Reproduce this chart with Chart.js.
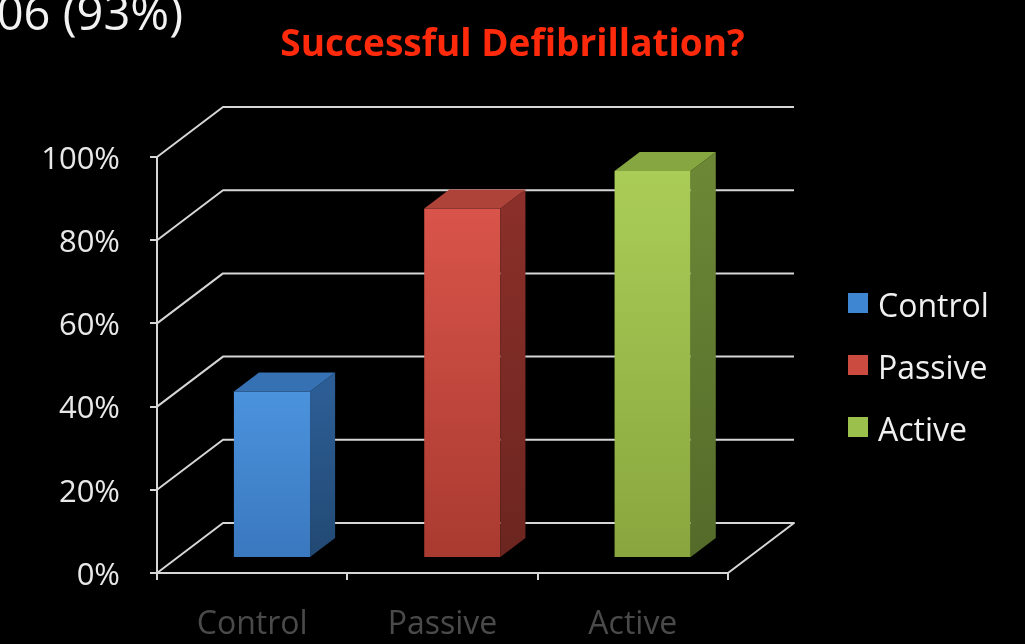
<!DOCTYPE html>
<html>
<head>
<meta charset="utf-8">
<script src="https://cdn.jsdelivr.net/npm/chart.js@4/dist/chart.umd.min.js"></script>
<style>
  html, body { margin: 0; padding: 0; background: #000; }
  #wrap { position: relative; width: 1025px; height: 644px; }
</style>
</head>
<body>
<div id="wrap"><canvas id="c" width="1025" height="644"></canvas></div>
<script>
// ---- data ----
const categories = ['Control', 'Passive', 'Active'];
const successRate = [40, 84, 93];          // percent
const yTickValues = [0, 20, 40, 60, 80, 100];
const titleText = 'Successful Defibrillation?';
const strayText = '06 (93%)';

// ---- styles ----
const frontTop = ['#4b93dd', '#d9544a', '#aacd57'];
const frontBottom = ['#3a78bf', '#a93a30', '#89a63e'];
const sideCol = ['#2c5d94', '#8a2f29', '#6c8836'];
const topCol = ['#3671b3', '#ad4339', '#86a642'];
const legendCol = ['#3f86d2', '#cc4b40', '#9bc04c'];
const DX = 66, DY = -50;          // full floor depth offset
const F0 = 0.3, F1 = 0.68;        // bar depth range (fraction of floor depth)
const LINE = '#d6d6d6';

const threeD = {
  id: 'threeD',
  beforeDatasetsDraw(chart) {
    const { ctx, chartArea: a, scales: { y } } = chart;
    ctx.save();
    ctx.strokeStyle = LINE;
    ctx.lineWidth = 2;
    ctx.lineJoin = 'round';
    yTickValues.forEach(v => {
      const py = y.getPixelForValue(v);
      ctx.beginPath();
      ctx.moveTo(a.left, py);
      ctx.lineTo(a.left + DX, py + DY);
      ctx.lineTo(a.right + DX, py + DY);
      if (v === 0) ctx.lineTo(a.right, py);
      ctx.stroke();
    });
    ctx.restore();
    ctx.save();
    ctx.translate(F0 * DX, F0 * DY);
  },
  afterDatasetsDraw(chart) {
    const { ctx } = chart;
    const meta = chart.getDatasetMeta(0);
    const ddx = (F1 - F0) * DX, ddy = (F1 - F0) * DY;
    meta.data.forEach((bar, i) => {
      const p = bar.getProps(['x', 'y', 'base', 'width'], true);
      const l = p.x - p.width / 2, r = p.x + p.width / 2, t = p.y, b = p.base;
      // side face
      const g = ctx.createLinearGradient(0, t, 0, b);
      g.addColorStop(0, sideCol[i]);
      g.addColorStop(1, shade(sideCol[i], -0.22));
      ctx.fillStyle = g;
      ctx.beginPath();
      ctx.moveTo(r, t); ctx.lineTo(r + ddx, t + ddy); ctx.lineTo(r + ddx, b + ddy); ctx.lineTo(r, b);
      ctx.closePath(); ctx.fill();
      // top face
      ctx.fillStyle = topCol[i];
      ctx.beginPath();
      ctx.moveTo(l, t); ctx.lineTo(l + ddx, t + ddy); ctx.lineTo(r + ddx, t + ddy); ctx.lineTo(r, t);
      ctx.closePath(); ctx.fill();
    });
    ctx.restore();
  },
  afterDraw(chart) {
    const { ctx } = chart;
    ctx.save();
    // legend
    ctx.font = '32px "Open Sans"';
    ctx.textAlign = 'left';
    ctx.textBaseline = 'alphabetic';
    const tops = [293, 355, 417];
    categories.forEach((c, i) => {
      ctx.fillStyle = legendCol[i];
      ctx.fillRect(848, tops[i], 20, 20);
      ctx.fillStyle = '#f0f0f0';
      ctx.fillText(c, 878, tops[i] + 24);
    });
    // stray slide text at top-left
    ctx.font = '47px "Open Sans"';
    ctx.textAlign = 'right';
    ctx.fillStyle = '#f2f2f2';
    ctx.fillText(strayText, 183, 30);
    ctx.restore();
  }
};

function shade(hex, k) {
  const n = parseInt(hex.slice(1), 16);
  let r = n >> 16, g = (n >> 8) & 255, b = n & 255;
  r = Math.round(r * (1 + k)); g = Math.round(g * (1 + k)); b = Math.round(b * (1 + k));
  return 'rgb(' + r + ',' + g + ',' + b + ')';
}

new Chart(document.getElementById('c'), {
  type: 'bar',
  data: {
    labels: categories,
    datasets: [{
      label: 'Successful Defibrillation',
      data: successRate,
      clip: false,
      barPercentage: 0.4,
      categoryPercentage: 1.0,
      borderWidth: 0,
      backgroundColor(ctx) {
        const chart = ctx.chart, y = chart.scales.y;
        const i = ctx.dataIndex;
        if (!y || !chart.chartArea || ctx.type !== 'data') return frontTop[i % 3];
        const t = y.getPixelForValue(successRate[i]), b = y.getPixelForValue(0);
        const g = chart.ctx.createLinearGradient(0, t, 0, b);
        g.addColorStop(0, frontTop[i]);
        g.addColorStop(1, frontBottom[i]);
        return g;
      }
    }]
  },
  options: {
    responsive: false,
    animation: false,
    events: [],
    layout: { padding: 0 },
    plugins: {
      legend: { display: false },
      tooltip: { enabled: false },
      title: {
        display: true,
        text: titleText,
        color: '#ff2a0c',
        font: { family: 'Open Sans', size: 37, weight: 'bold', lineHeight: 1.2 },
        padding: { top: 23, bottom: 89.6 }
      }
    },
    scales: {
      x: {
        grid: { display: true, drawOnChartArea: false, drawTicks: true, tickLength: 7, offset: true, color: LINE, lineWidth: 2 },
        border: { display: true, color: LINE, width: 2 },
        ticks: { color: '#4a4a4a', padding: 26, font: { family: 'Open Sans', size: 32 } },
        afterFit(s) { s.height = 71; }
      },
      y: {
        min: 0, max: 100,
        grid: { display: true, drawOnChartArea: false, drawTicks: true, tickLength: 7, color: LINE, lineWidth: 2 },
        border: { display: true, color: LINE, width: 2 },
        ticks: { stepSize: 20, color: '#e8e8e8', padding: 30, labelOffset: 3, font: { family: 'Open Sans', size: 31 },
                 callback: v => v + '%' },
        afterFit(s) { s.width = 157; }
      },
      spacer: {
        type: 'linear', position: 'right', display: true,
        grid: { display: false }, border: { display: false }, ticks: { display: false },
        afterFit(s) { s.width = 297; }
      }
    }
  },
  plugins: [threeD]
});
</script>
</body>
</html>
